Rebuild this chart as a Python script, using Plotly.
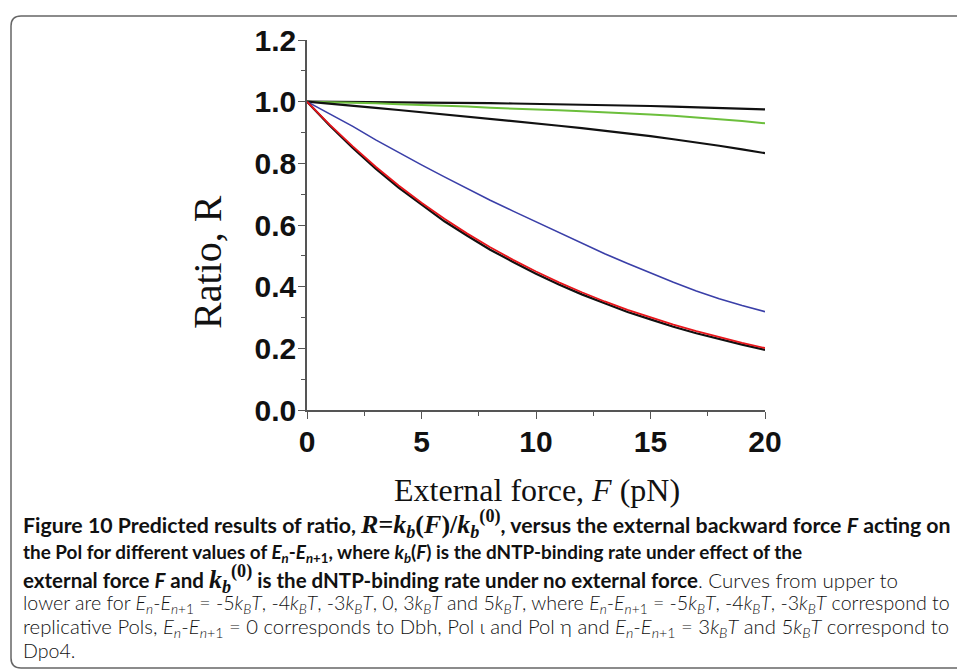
import plotly.graph_objects as go

# ---- data ----
force_pN = [0, 1, 2, 3, 4, 5, 6, 7, 8, 9, 10, 11, 12, 13, 14, 15, 16, 17, 18, 19, 20]

ratio_m5kT = [1.000, 1.000, 0.999, 0.999, 0.998, 0.997, 0.997, 0.996, 0.995, 0.994, 0.993,
              0.992, 0.990, 0.989, 0.988, 0.986, 0.984, 0.982, 0.980, 0.978, 0.975]
ratio_m4kT = [1.000, 0.999, 0.997, 0.995, 0.992, 0.990, 0.987, 0.984, 0.980, 0.978, 0.975,
              0.972, 0.969, 0.966, 0.962, 0.958, 0.954, 0.949, 0.944, 0.937, 0.930]
ratio_m3kT = [1.000, 0.994, 0.987, 0.980, 0.973, 0.966, 0.959, 0.951, 0.944, 0.937, 0.930,
              0.922, 0.914, 0.906, 0.897, 0.888, 0.878, 0.868, 0.857, 0.845, 0.833]
ratio_0kT = [1.000, 0.960, 0.920, 0.876, 0.835, 0.795, 0.756, 0.717, 0.680, 0.645, 0.610,
             0.575, 0.541, 0.507, 0.475, 0.444, 0.414, 0.386, 0.361, 0.339, 0.319]
ratio_3kT = [1.000, 0.925, 0.855, 0.789, 0.728, 0.672, 0.620, 0.572, 0.528, 0.487, 0.449,
             0.414, 0.382, 0.352, 0.325, 0.300, 0.277, 0.256, 0.236, 0.218, 0.201]
ratio_5kT = [1.000, 0.922, 0.850, 0.783, 0.721, 0.665, 0.612, 0.565, 0.520, 0.480, 0.442,
             0.407, 0.375, 0.346, 0.318, 0.294, 0.270, 0.249, 0.230, 0.212, 0.195]

x_ticks = [0, 5, 10, 15, 20]
x_tick_labels = ["0", "5", "10", "15", "20"]
y_ticks = [0.0, 0.2, 0.4, 0.6, 0.8, 1.0, 1.2]
y_tick_labels = ["0.0", "0.2", "0.4", "0.6", "0.8", "1.0", "1.2"]

series = [
    ("-5kBT", ratio_m5kT, "#111111", 2.2),
    ("-4kBT", ratio_m4kT, "#6cbf3c", 2.0),
    ("-3kBT", ratio_m3kT, "#111111", 2.2),
    ("0", ratio_0kT, "#3a3fa8", 1.6),
    ("5kBT", ratio_5kT, "#111111", 2.2),
    ("3kBT", ratio_3kT, "#e8151b", 1.8),
]

# ---- layout geometry (pixels) ----
W, H = 957, 671
PL, PR, PT, PB = 307, 765, 40, 410


def px_x(X):
    return (X - PL) / (PR - PL)


def px_y(Y):
    return (PB - Y) / (PB - PT)


fig = go.Figure()
for name, vals, col, lw in series:
    fig.add_trace(go.Scatter(x=force_pN, y=vals, mode="lines", name=name,
                             line=dict(color=col, width=lw), showlegend=False,
                             hoverinfo="skip"))

tick_font = dict(family="Liberation Sans, Arial, sans-serif", size=30, color="#111111",
                 weight="bold")
axis_common = dict(showgrid=False, zeroline=False, showline=True, linecolor="#555555",
                   linewidth=1.5, ticks="outside", ticklen=7, tickwidth=1.3,
                   tickcolor="#555555", tickfont=tick_font)

fig.update_xaxes(range=[0, 20], tickvals=x_ticks, ticktext=x_tick_labels,
                 minor=dict(ticks="outside", ticklen=4, tickwidth=1.2, tickcolor="#555555", dtick=2.5,
                            showgrid=False),
                 ticklabelstandoff=-3, **axis_common)
fig.update_yaxes(range=[0, 1.2], tickvals=y_ticks, ticktext=y_tick_labels,
                 minor=dict(ticks="outside", ticklen=4, tickwidth=1.2, tickcolor="#555555", dtick=0.1,
                            showgrid=False),
                 ticklabelstandoff=-4, **axis_common)

serif = "Liberation Serif, Times New Roman, serif"
annotations = [
    dict(text="Ratio, R", x=px_x(207), y=px_y(262), textangle=-90,
         font=dict(family=serif, size=40, color="#111111")),
    dict(text="External force, <i>F</i> (pN)", x=px_x(537), y=px_y(490),
         font=dict(family=serif, size=32, color="#111111")),
]
for a in annotations:
    a.update(xref="paper", yref="paper", showarrow=False, xanchor="center", yanchor="middle")

cap_font = "Lato, Open Sans, sans-serif"
mspan = '<span style="font-family:Liberation Serif;font-size:26px">'
E = "<i>E</i><sub><i>n</i></sub>-<i>E</i><sub><i>n</i>+1</sub>"
kT = "<i>k</i><sub><i>B</i></sub><i>T</i>"
# (text, centre y in px, font size)
caption_lines = [
    ("<b>Figure 10 Predicted results of ratio, </b>" + mspan +
     "<b><i>R</i>=<i>k</i><sub><i>b</i></sub>(<i>F</i>)/<i>k</i><sub><i>b</i></sub><sup>(0)</sup></b></span>"
     "<b>, versus the external backward force <i>F</i> acting on</b>", 524, 21.3),
    ("<b>the Pol for different values of " + E + ", where <i>k</i><sub><i>b</i></sub>(<i>F</i>) "
     "is the dNTP-binding rate under effect of the</b>", 553, 18.9),
    ("<b>external force <i>F</i> and </b>" + mspan +
     "<b><i>k</i><sub><i>b</i></sub><sup>(0)</sup></b></span>"
     "<b> is the dNTP-binding rate under no external force</b>. Curves from upper to", 579, 20.5),
    ("lower are for " + E + " = -5" + kT + ", -4" + kT + ", -3" + kT + ", 0, 3" + kT + " and 5" + kT +
     ", where " + E + " = -5" + kT + ", -4" + kT + ", -3" + kT + " correspond to", 604, 19.6),
    ("replicative Pols, " + E + " = 0 corresponds to Dbh, Pol \u03b9 and Pol \u03b7 and " + E +
     " = 3" + kT + " and 5" + kT + " correspond to", 627, 20.3),
    ("Dpo4.", 650, 19.6),
]
for txt, ypx, fs in caption_lines:
    annotations.append(dict(text=txt, x=px_x(21), y=px_y(ypx), xref="paper", yref="paper",
                            showarrow=False, xanchor="left", yanchor="middle", align="left",
                            font=dict(family=cap_font, size=fs, color="#111111", weight=300)))

# rounded frame around figure + caption
x0, xr = px_x(11), px_x(1000)
yt, yb = px_y(16), px_y(668)
rx, ry = 10 / (PR - PL), 10 / (PB - PT)
frame_path = (f"M {xr},{yt} L {x0 + rx},{yt} Q {x0},{yt} {x0},{yt - ry} "
              f"L {x0},{yb + ry} Q {x0},{yb} {x0 + rx},{yb} L {xr},{yb}")

fig.update_layout(
    width=W, height=H, autosize=False,
    margin=dict(l=PL, r=W - PR, t=PT, b=H - PB, pad=0),
    paper_bgcolor="white", plot_bgcolor="white",
    annotations=annotations,
    shapes=[dict(type="path", path=frame_path, xref="paper", yref="paper",
                 line=dict(color="#666666", width=1.5), layer="below")],
)

fig.write_html("out.html", config={"displayModeBar": False},
               post_script="document.body.style.margin='0';document.body.style.overflow='hidden';")
